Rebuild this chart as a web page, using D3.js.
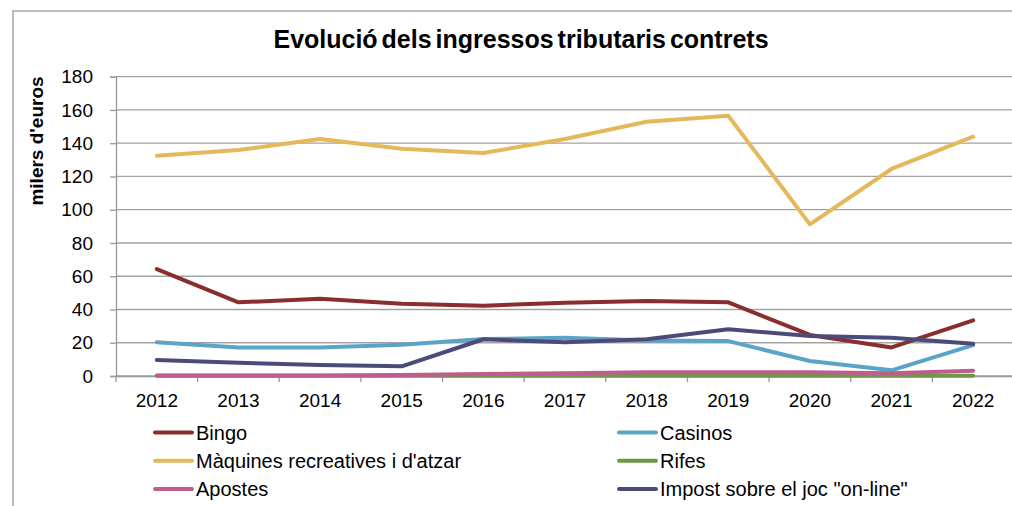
<!DOCTYPE html>
<html>
<head>
<meta charset="utf-8">
<script src="https://cdn.jsdelivr.net/npm/d3@7"></script>
<style>
  body { margin: 0; background: #fff; }
  text { font-family: "Liberation Sans", Arial, sans-serif; fill: #000; }
</style>
</head>
<body>
<div id="chart"></div>
<script>
// Data (milers d'euros)
var years = ["2012", "2013", "2014", "2015", "2016", "2017", "2018", "2019", "2020", "2021", "2022"];
var bingo = [64.3, 44.3, 46.5, 43.5, 42.3, 44.1, 45.1, 44.3, 24.7, 17.2, 33.5];
var casinos = [20.3, 17.2, 17.2, 18.8, 22.2, 23.0, 21.4, 21.0, 9.0, 3.4, 18.6];
var maquines = [132.5, 135.9, 142.5, 136.7, 134.1, 142.5, 152.9, 156.5, 91.2, 124.5, 143.9];
var rifes = [0.2, 0.2, 0.2, 0.2, 0.2, 0.2, 0.2, 0.2, 0.2, 0.2, 0.2];
var apostes = [0.3, 0.3, 0.3, 0.6, 1.2, 1.6, 2.2, 2.2, 2.2, 1.6, 3.2];
var impost = [9.6, 8.0, 6.6, 5.8, 22.1, 20.3, 22.1, 28.1, 24.1, 23.0, 19.4];
var yTicks = [0, 20, 40, 60, 80, 100, 120, 140, 160, 180];

var series = [
    { name: "Bingo", values: bingo, color: "#8a2d2d" },
    { name: "Casinos", values: casinos, color: "#5ba4c8" },
    { name: "Màquines recreatives i d'atzar", values: maquines, color: "#e4b95b" },
    { name: "Rifes", values: rifes, color: "#6b9a47" },
    { name: "Apostes", values: apostes, color: "#c15d8c" },
    { name: "Impost sobre el joc \"on-line\"", values: impost, color: "#4b4b7a" }
];

var width = 1012, height = 506;
var plot = { left: 116, right: 1014, top: 76.7, bottom: 376 };

var svg = d3.select("#chart").append("svg")
    .attr("width", width)
    .attr("height", height);

// outer frame
svg.append("rect")
    .attr("x", 13).attr("y", 11)
    .attr("width", width + 20).attr("height", height + 20)
    .attr("fill", "none")
    .attr("stroke", "#a6a6a6")
    .attr("stroke-width", 1.5);

var x = d3.scaleBand().domain(years).range([plot.left, plot.right]);
var y = d3.scaleLinear().domain([0, 180]).range([plot.bottom, plot.top]);

// gridlines
svg.append("g")
    .selectAll("line")
    .data(yTicks)
    .enter().append("line")
    .attr("x1", plot.left).attr("x2", width)
    .attr("y1", function(d) { return y(d); })
    .attr("y2", function(d) { return y(d); })
    .attr("stroke", "#a3a3a3")
    .attr("stroke-width", 1.3);

// y axis
var yAxis = svg.append("g")
    .attr("transform", "translate(" + plot.left + ",0)")
    .call(d3.axisLeft(y).tickValues(yTicks).tickSize(6).tickPadding(17));
yAxis.select(".domain").attr("stroke", "#999").attr("stroke-width", 1.3);
yAxis.selectAll(".tick line").attr("stroke", "#999").attr("stroke-width", 1.3);
yAxis.selectAll("text").style("font-size", "19px").attr("fill", "#000");

// x axis
var xAxis = svg.append("g")
    .attr("transform", "translate(0," + plot.bottom + ")")
    .call(d3.axisBottom(x).tickSize(0).tickPadding(18));
xAxis.select(".domain").attr("stroke", "#999").attr("stroke-width", 1.3);
xAxis.selectAll("text").style("font-size", "19px").attr("fill", "#000");
svg.append("g")
    .selectAll("line")
    .data(years)
    .enter().append("line")
    .attr("x1", function(d) { return x(d); })
    .attr("x2", function(d) { return x(d); })
    .attr("y1", plot.bottom).attr("y2", plot.bottom + 6)
    .attr("stroke", "#999").attr("stroke-width", 1.3);

// lines
var line = d3.line()
    .x(function(d, i) { return x(years[i]) + x.bandwidth() / 2; })
    .y(function(d) { return y(d); });

svg.append("g")
    .selectAll("path")
    .data(series)
    .enter().append("path")
    .attr("d", function(d) { return line(d.values); })
    .attr("fill", "none")
    .attr("stroke", function(d) { return d.color; })
    .attr("stroke-width", 4)
    .attr("stroke-linejoin", "round")
    .attr("stroke-linecap", "round");

// title
svg.append("text")
    .attr("x", 521).attr("y", 48)
    .attr("text-anchor", "middle")
    .style("font-size", "25px")
    .style("font-weight", "bold")
    .style("word-spacing", "-3px")
    .text("Evolució dels ingressos tributaris  contrets");

// y label
svg.append("text")
    .attr("transform", "translate(43,141) rotate(-90)")
    .attr("text-anchor", "middle")
    .style("font-size", "19px")
    .style("font-weight", "bold")
    .text("milers d'euros");

// legend
var legend = svg.append("g")
    .selectAll("g")
    .data(series)
    .enter().append("g")
    .attr("transform", function(d, i) {
        return "translate(" + (i % 2 === 0 ? 155 : 619) + "," + (432.5 + Math.floor(i / 2) * 28.2) + ")";
    });
legend.append("line")
    .attr("x1", 0).attr("x2", 37)
    .attr("stroke", function(d) { return d.color; })
    .attr("stroke-width", 4)
    .attr("stroke-linecap", "round");
legend.append("text")
    .attr("x", 41).attr("dy", "0.35em")
    .style("font-size", "20px")
    .text(function(d) { return d.name; });
</script>
</body>
</html>
